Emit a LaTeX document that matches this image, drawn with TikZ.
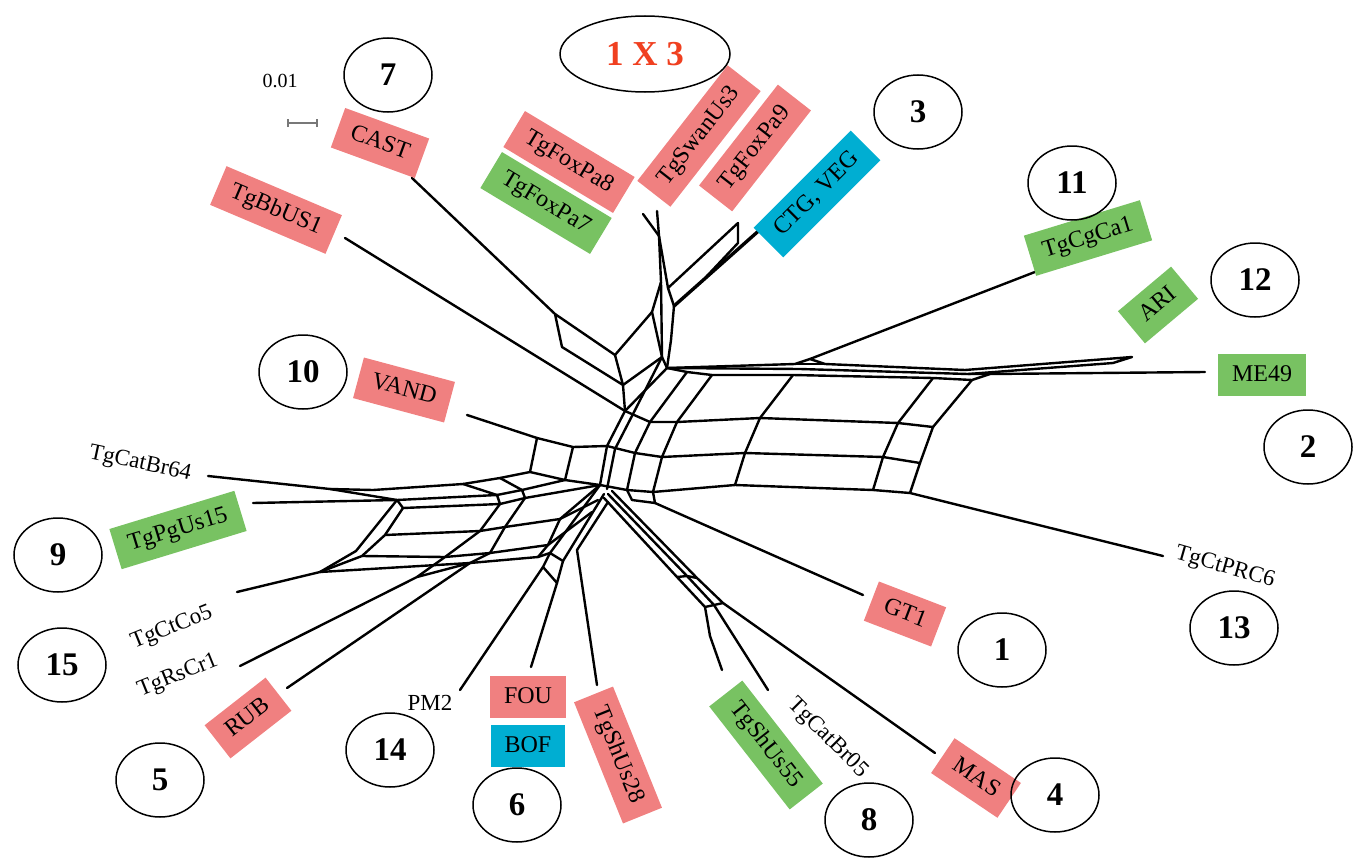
\documentclass[tikz,border=0pt]{standalone}
\usepackage{fontspec}
\setmainfont{Liberation Serif}
\usetikzlibrary{shapes.geometric}
\definecolor{boxred}{RGB}{240,128,128}
\definecolor{boxgreen}{RGB}{120,194,98}
\definecolor{boxblue}{RGB}{0,174,210}
\definecolor{crossred}{RGB}{240,64,32}
\definecolor{bargrey}{RGB}{120,120,120}
\begin{document}
\begin{tikzpicture}[x=1pt,y=-1pt,
  net/.style={line width=2.4pt, line join=round, line cap=round},
  numc/.style={draw, ellipse, line width=1.5pt, minimum width=88pt, minimum height=74pt, inner sep=0pt, font=\bfseries\fontsize{33}{33}\selectfont},
  tag/.style={inner xsep=14pt, inner ysep=10pt, text height=17pt, text depth=5pt, font=\fontsize{24}{24}\selectfont},
  redtag/.style={tag, fill=boxred},
  greentag/.style={tag, fill=boxgreen},
  bluetag/.style={tag, fill=boxblue},
  plain/.style={inner sep=0pt, font=\fontsize{23}{23}\selectfont}]
\useasboundingbox (0,0) rectangle (1360,859);

% ---------- junctions of the splits network ----------
% top stem
\coordinate (ta) at (643,214); \coordinate (tb) at (657,211);
\coordinate (tj) at (659,236); \coordinate (tl) at (661,282);
\coordinate (tr) at (668,288); \coordinate (tc) at (674,306);
\coordinate (tm) at (652,312); \coordinate (q1) at (662,357);
\coordinate (q2) at (671,340);
\coordinate (ctg) at (763,227); \coordinate (f1) at (738,223);
\coordinate (f2) at (738,243); \coordinate (f3) at (706,277);
% long band to ME49
\coordinate (U) at (667,368);
\coordinate (m1) at (795,364); \coordinate (cg) at (810,359);
\coordinate (m2) at (825,364); \coordinate (m3) at (965,370);
\coordinate (ari) at (1132,357); \coordinate (ari2) at (1113,363);
\coordinate (m4) at (968,374); \coordinate (m5) at (990,374);
\coordinate (mid) at (800,369);
\coordinate (me) at (1205,372); \coordinate (cgtip) at (1053,265);
\coordinate (g0) at (687,372); \coordinate (g1) at (712,375);
\coordinate (g2) at (793,375); \coordinate (g3) at (933,378);
\coordinate (g4) at (972,380);
% grid rows
\coordinate (r10) at (625,411); \coordinate (r11) at (650,422);
\coordinate (r12) at (677,422); \coordinate (r13) at (760,418);
\coordinate (r14) at (898,423); \coordinate (r15) at (933,427);
\coordinate (r20) at (607,446); \coordinate (r21) at (635,453);
\coordinate (r22) at (662,457); \coordinate (r23) at (745,453);
\coordinate (r24) at (883,457); \coordinate (r25) at (920,463);
\coordinate (H) at (600,485); \coordinate (r31) at (627,490);
\coordinate (r32) at (653,492); \coordinate (r33) at (735,485);
\coordinate (r34) at (873,490); \coordinate (r35) at (910,493);
\coordinate (prc) at (1163,556);
\coordinate (k1) at (633,414); \coordinate (k2) at (615,449);
\coordinate (k3) at (607,489);
% upper left
\coordinate (casttip) at (412,178); \coordinate (bbtip) at (345,238);
\coordinate (p1) at (555,314); \coordinate (p2) at (615,355);
\coordinate (p3) at (623,385); \coordinate (p4) at (562,347);
% VAND square
\coordinate (vtip) at (467,415); \coordinate (v1) at (537,438);
\coordinate (v2) at (573,447); \coordinate (v4) at (530,472);
\coordinate (v5) at (565,480);
% left band
\coordinate (c64) at (208,476); \coordinate (a0) at (330,489);
\coordinate (a1) at (373,490); \coordinate (a2) at (463,484);
\coordinate (a3) at (500,478);
\coordinate (pg) at (253,503); \coordinate (b0) at (397,500);
\coordinate (bb1) at (497,495); \coordinate (bb2) at (522,490);
\coordinate (b1) at (403,508); \coordinate (bc1) at (500,504);
\coordinate (bc2) at (525,498);
\coordinate (c0) at (385,535); \coordinate (cd1) at (480,531);
\coordinate (cd1b) at (505,527); \coordinate (cd2) at (560,519);
\coordinate (cd3) at (598,500);
\coordinate (d0) at (362,556); \coordinate (d0b) at (356,551);
\coordinate (de1) at (445,557); \coordinate (de1b) at (490,553);
\coordinate (de2) at (548,545); \coordinate (de3) at (592,512);
\coordinate (e0) at (320,572); \coordinate (ef1) at (470,563);
\coordinate (ef2) at (538,557);
\coordinate (co5) at (237,592); \coordinate (rs) at (240,666);
\coordinate (rsj) at (417,577); \coordinate (rub) at (287,688);
% lower centre
\coordinate (hb1) at (550,553); \coordinate (hb2) at (543,567);
\coordinate (hb3) at (557,583); \coordinate (hb4) at (563,561);
\coordinate (hc) at (604,494); \coordinate (hd) at (608,502);
\coordinate (s28j) at (577,550); \coordinate (s28) at (597,685);
\coordinate (pm2) at (460,690); \coordinate (fou) at (531,667);
% lower right
\coordinate (l1a) at (604,498); \coordinate (l1b) at (677,577);
\coordinate (l1c) at (705,607); \coordinate (l1d) at (710,636);
\coordinate (l2a) at (608,494); \coordinate (l2b) at (687,576);
\coordinate (l2c) at (714,605);
\coordinate (l3a) at (612,491); \coordinate (l3b) at (697,578);
\coordinate (l3c) at (723,603);
\coordinate (s55) at (722,670); \coordinate (br05) at (768,690);
\coordinate (mas) at (935,753);
\coordinate (gt0) at (632,500); \coordinate (gt1) at (655,503);
\coordinate (gttip) at (863,595);

% ---------- edges ----------
\begin{scope}[net]
% top stem and its side branches
\draw (ta) -- (tj); \draw (tb) -- (tj);
\draw (tj) -- (tl) -- (tm); \draw (tl) -- (q1) -- (U);
\draw (tj) -- (tr) -- (tc) -- (q2) -- (U);
\draw (tm) -- (q1);
\draw[line width=3.4pt] (ctg) -- (tc);
\draw (f1) -- (tr); \draw (f1) -- (f2) -- (f3);
% band towards ARI / ME49 / TgCgCa1
\draw (U) -- (m1) -- (cg) -- (m2) -- (m3) -- (ari) -- (ari2) -- (m4);
\draw (m1) -- (m2);
\draw (U) -- (mid) -- (m4) -- (m5) -- (me);
\draw (U) -- (g0) -- (g1) -- (g2) -- (g3) -- (g4) -- (m5);
\draw (cg) -- (cgtip);
% grid
\draw (U) -- (r10) -- (r20) -- (H);
\draw (q1) -- (k1) -- (k2) -- (k3);
\draw (r10) -- (r11) -- (r12) -- (r13) -- (r14) -- (r15);
\draw (r20) -- (r21) -- (r22) -- (r23) -- (r24) -- (r25);
\draw (H) -- (r31) -- (r32) -- (r33) -- (r34) -- (r35) -- (prc);
\draw (g0) -- (r11) -- (r21) -- (r31);
\draw (g1) -- (r12) -- (r22) -- (r32);
\draw (g2) -- (r13) -- (r23) -- (r33);
\draw (g3) -- (r14) -- (r24) -- (r34);
\draw (g4) -- (r15) -- (r25) -- (r35);
% CAST and TgBbUS1
\draw (casttip) -- (p1) -- (p2) -- (p3) -- (p4) -- (p1);
\draw (p2) -- (tm); \draw (p3) -- (q1); \draw (p3) -- (r10);
\draw (bbtip) -- (r10);
% VAND square
\draw (vtip) -- (v1) -- (v2) -- (r20);
\draw (v1) -- (v4) -- (v5) -- (H); \draw (v2) -- (v5);
% left band
\draw (c64) -- (a0) -- (a1) -- (a2) -- (a3) -- (v4);
\draw (a0) -- (b0); \draw (pg) -- (b0);
\draw (b0) -- (bb1) -- (bb2) -- (v5);
\draw (b0) -- (b1) -- (bc1) -- (bc2) -- (H);
\draw (a2) -- (bb1) -- (bc1); \draw (a3) -- (bb2) -- (bc2);
\draw (b1) -- (c0) -- (d0) -- (e0); \draw (b0) -- (d0b) -- (e0);
\draw (c0) -- (cd1) -- (cd1b) -- (cd2) -- (cd3);
\draw (d0) -- (de1) -- (de1b) -- (de2) -- (de3);
\draw (e0) -- (ef1) -- (ef2);
\draw (bc1) -- (cd1) -- (de1) -- (rsj);
\draw (bc2) -- (cd1b) -- (de1b) -- (ef1);
\draw (H) -- (cd2) -- (de2) -- (ef2);
\draw (rs) -- (rsj) -- (ef1);
\draw (rub) -- (ef1); \draw (co5) -- (e0);
% lower centre
\draw (H) -- (hb1) -- (hb2) -- (hb3) -- (hb4) -- (hb1);
\draw (hc) -- (hb4);
\draw (hd) -- (s28j) -- (s28);
\draw (pm2) -- (hb2); \draw (fou) -- (hb3);
\draw (ef2) -- (hb1);
% lower right
\draw (l1a) -- (l1b) -- (l1c) -- (l1d) -- (s55);
\draw (l2a) -- (l2b) -- (l2c) -- (br05);
\draw (l3a) -- (l3b) -- (l3c) -- (mas);
\draw (l1b) -- (l2b) -- (l3b); \draw (l1c) -- (l2c) -- (l3c);
\draw (r31) -- (gt0) -- (gt1) -- (r32); \draw (gt1) -- (gttip);
\end{scope}

% ---------- scale bar ----------
\node[plain, font=\fontsize{20}{20}\selectfont] (scale) at (280,81) {0.01};
\coordinate (sb0) at (288,123); \coordinate (sb1) at (317,123);
\draw[bargrey, line width=1.5pt] (sb0) -- (sb1);
\draw[bargrey, line width=1.3pt] ([yshift=-4pt]sb0) -- ([yshift=4pt]sb0);
\draw[bargrey, line width=1.3pt] ([yshift=-4pt]sb1) -- ([yshift=4pt]sb1);

% ---------- coloured labels ----------
\node[redtag, rotate=-20] (lcast) at (380,143) {CAST};
\node[redtag, rotate=-23] (lbb) at (276,210) {TgBbUS1};
\node[redtag, rotate=-31] (lfox8) at (569,162) {TgFoxPa8};
\node[greentag, rotate=-31] (lfox7) at (546,203) {TgFoxPa7};
\node[redtag, rotate=52] (lswan) at (699,136) {TgSwanUs3};
\node[redtag, rotate=52] (lfox9) at (755,148) {TgFoxPa9};
\node[bluetag, rotate=45] (lctg) at (817,194) {CTG, VEG};
\node[greentag, rotate=17] (lcg) at (1088,238) {TgCgCa1};
\node[greentag, rotate=40] (lari) at (1158,305) {ARI};
\node[greentag] (lme) at (1262,375) {ME49};
\node[redtag, rotate=-15] (lvand) at (404,390) {VAND};
\node[greentag, rotate=17] (lpg) at (178,530) {TgPgUs15};
\node[redtag, rotate=38] (lrub) at (248,718) {RUB};
\node[redtag] (lfou) at (528,697) {FOU};
\node[bluetag] (lbof) at (528,746) {BOF};
\node[redtag, rotate=-68] (ls28) at (618,755) {TgShUs28};
\node[greentag, rotate=-52] (ls55) at (766,745) {TgShUs55};
\node[redtag, rotate=-21] (lgt) at (905,614) {GT1};
\node[redtag, rotate=-34] (lmas) at (976,778) {MAS};

% ---------- plain labels ----------
\node[plain, rotate=-12] (l64) at (140,464) {TgCatBr64};
\node[plain, rotate=22] (lco5) at (172,628) {TgCtCo5};
\node[plain, rotate=22] (lrs) at (178,676) {TgRsCr1};
\node[plain] (lpm2) at (430,703) {PM2};
\node[plain, rotate=-45] (l05) at (828,738) {TgCatBr05};
\node[plain, rotate=-16] (lprc) at (1225,568) {TgCtPRC6};

% ---------- numbered ellipses ----------
\node[numc] (n7) at (388,75) {7};
\node[numc, minimum width=170pt, minimum height=76pt, text=crossred, font=\bfseries\fontsize{35}{35}\selectfont] (nx) at (645,54) {1 X 3};
\node[numc] (n3) at (918,112) {3};
\node[numc] (n11) at (1072,183) {11};
\node[numc] (n12) at (1255,280) {12};
\node[numc] (n2) at (1308,447) {2};
\node[numc] (n10) at (303,372) {10};
\node[numc] (n9) at (58,555) {9};
\node[numc] (n15) at (62,665) {15};
\node[numc] (n5) at (160,780) {5};
\node[numc] (n14) at (390,750) {14};
\node[numc] (n6) at (517,805) {6};
\node[numc] (n8) at (869,820) {8};
\node[numc] (n4) at (1055,795) {4};
\node[numc] (n1) at (1002,650) {1};
\node[numc] (n13) at (1234,628) {13};
\end{tikzpicture}
\end{document}
